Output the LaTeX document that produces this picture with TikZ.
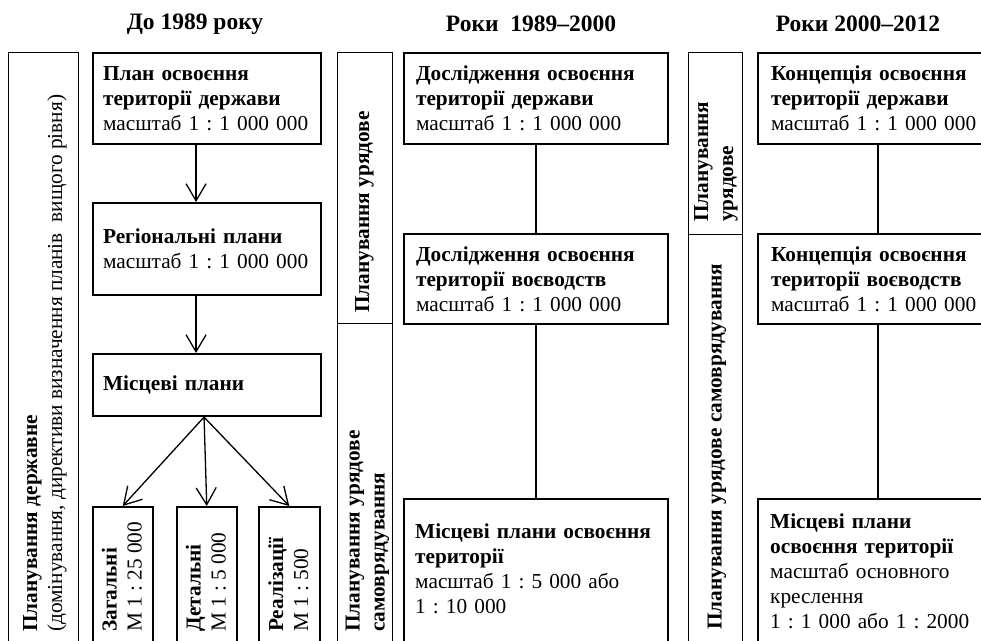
\documentclass[tikz,border=0pt]{standalone}
\usepackage{fontspec}
\setmainfont{Liberation Serif}
\usetikzlibrary{arrows.meta,positioning}
\frenchspacing

\tikzset{
  box/.style={draw, line width=2.1pt, anchor=north west, align=left, inner ysep=0pt,
    font=\fontsize{21.3}{25}\selectfont},
  band/.style={draw, line width=1.4pt, anchor=north west, inner sep=0pt},
  txt/.style={align=left, anchor=north west, inner sep=0pt, font=\fontsize{21.3}{25}\selectfont},
  vtxt/.style={rotate=90, anchor=west, align=left, inner sep=0pt, font=\fontsize{21.3}{25}\selectfont},
  head/.style={font=\fontsize{23.5}{28}\selectfont\bfseries},
  arr/.style={line width=1.3pt, -{Straight Barb[length=17pt,width=20pt]}},
  link/.style={line width=1.3pt}
}

\begin{document}
\begin{tikzpicture}[x=1pt,y=-1pt]
  \useasboundingbox (0,0) rectangle (981,640);
  \clip (0,0) rectangle (981,640);

  % Headings
  \node[head] (h1) at (195,24) {До 1989 року};
  \node[head] (h2) at (531,24) {Роки\ \ 1989–2000};
  \node[head] (h3) at (858,24) {Роки 2000–2012};

  % До 1989 року
  \node[band, minimum width=70pt, minimum height=620pt] (bd1) at (8,52) {};
  \node[vtxt] (bd1t) at (45,632) {\textbf{Планування державне}\\(домінування, директиви визначення планів\ \ вищого рівня)};

  \node[box, inner xsep=10pt, text width=208pt, minimum height=91pt] (pl1) at (92,52)
    {\textbf{План освоєння}\\\textbf{території держави}\\масштаб 1 : 1 000 000};
  \node[box, inner xsep=10pt, text width=208pt, minimum height=92pt] (pl2) at (92,202)
    {\textbf{Регіональні плани}\\масштаб 1 : 1 000 000};
  \node[box, inner xsep=10pt, text width=208pt, minimum height=62pt] (pl3) at (92,353)
    {\textbf{Місцеві плани}};

  \node[band, line width=1.5pt, minimum width=60pt, minimum height=160pt] (zag) at (92,506) {};
  \node[band, line width=1.5pt, minimum width=60pt, minimum height=160pt] (det) at (176,506) {};
  \node[band, line width=1.5pt, minimum width=61pt, minimum height=160pt] (rea) at (258,506) {};
  \node[vtxt] (zagt) at (122,632) {\textbf{Загальні}\\М 1 : 25 000};
  \node[vtxt] (dett) at (206,632) {\textbf{Детальні}\\М 1 : 5 000};
  \node[vtxt] (reat) at (288.5,632) {\textbf{Реалізації}\\М 1 : 500};

  \draw[arr] ([xshift=-11pt]pl1.south) -- ([xshift=-11pt]pl2.north);
  \draw[arr] ([xshift=-11pt]pl2.south) -- ([xshift=-11pt]pl3.north);
  \foreach \n in {zag,det,rea}
    \draw[arr] ([xshift=-3pt]pl3.south) -- (\n.north);

  % Роки 1989-2000
  \node[band, minimum width=55pt, minimum height=271pt] (ur2) at (337,52) {};
  \node[band, minimum width=55pt, minimum height=340pt] (sa2) at (337,323) {};
  \node[vtxt] (ur2t) at (364.5,313) {\textbf{Планування урядове}};
  \node[vtxt] (sa2t) at (367.5,632) {\textbf{Планування урядове}\\\textbf{самоврядування}};

  \node[box, inner xsep=12pt, text width=240pt, minimum height=91pt] (db1) at (403,52)
    {\textbf{Дослідження освоєння}\\\textbf{території держави}\\масштаб 1 : 1 000 000};
  \node[box, inner xsep=12pt, text width=240pt, minimum height=90pt] (db2) at (403,233)
    {\textbf{Дослідження освоєння}\\\textbf{території воєводств}\\масштаб 1 : 1 000 000};
  \node[box, inner xsep=12pt, text width=240pt, minimum height=170pt] (db3) at (403,498) {};
  \node[txt, text width=240pt] (db3t) at (415,524)
    {\textbf{Місцеві плани освоєння}\\\textbf{території}\\масштаб 1 : 5 000 або\\1 : 10 000};

  \draw[link] (db1.south) -- (db2.north);
  \draw[link] (db2.south) -- (db3.north);

  % Роки 2000-2012
  \node[band, minimum width=54pt, minimum height=182pt] (ur3) at (688,52) {};
  \node[band, minimum width=54pt, minimum height=430pt] (sa3) at (688,234) {};
  \node[vtxt] (ur3t) at (716,222) {\textbf{Планування}\\\textbf{урядове}};
  \node[vtxt] (sa3t) at (717,630) {\textbf{Планування урядове самоврядування}};

  \node[box, inner xsep=13pt, text width=214pt, minimum height=91pt] (kc1) at (757,52)
    {\textbf{Концепція освоєння}\\\textbf{території держави}\\масштаб 1 : 1 000 000};
  \node[box, inner xsep=13pt, text width=214pt, minimum height=90pt] (kc2) at (757,233)
    {\textbf{Концепція освоєння}\\\textbf{території воєводств}\\масштаб 1 : 1 000 000};
  \node[box, inner xsep=13pt, text width=214pt, minimum height=170pt] (kc3) at (757,498) {};
  \node[txt, text width=214pt] (kc3t) at (770,514)
    {\textbf{Місцеві плани}\\\textbf{освоєння території}\\масштаб основного\\креслення\\1 : 1 000 або 1 : 2000};

  \draw[link] (kc1.south) -- (kc2.north);
  \draw[link] (kc2.south) -- (kc3.north);
\end{tikzpicture}
\end{document}
